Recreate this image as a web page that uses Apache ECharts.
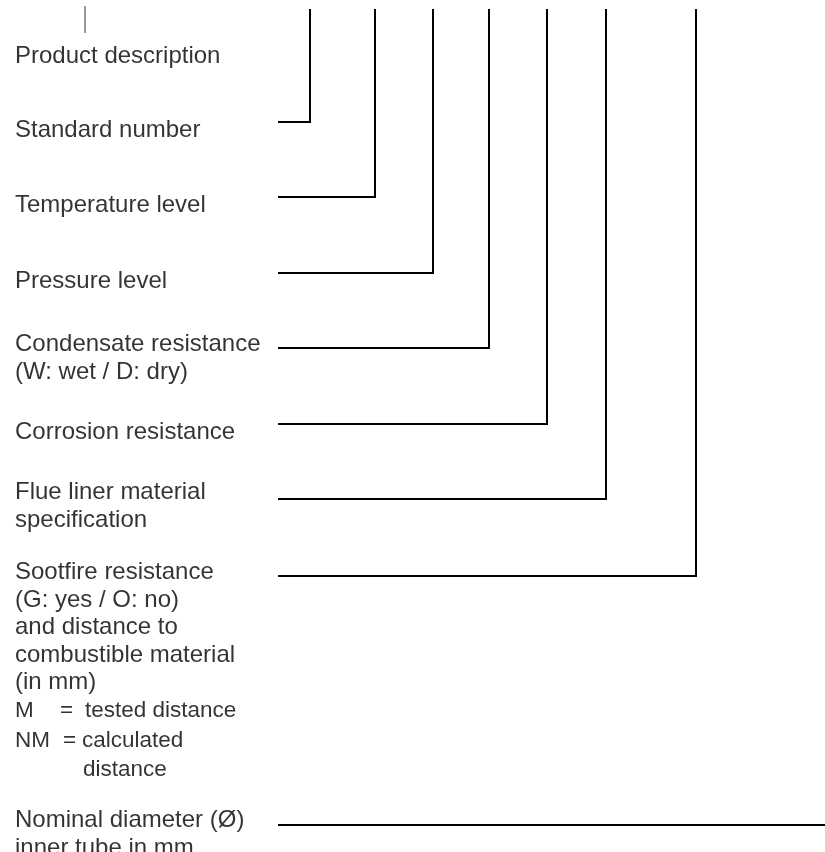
<!DOCTYPE html>
<html>
<head>
<meta charset="utf-8">
<script src="https://cdn.jsdelivr.net/npm/echarts@6/dist/echarts.min.js"></script>
<style>
  html, body { margin: 0; padding: 0; background: #fff; }
  #chart { width: 825px; height: 852px; }
</style>
</head>
<body>
<div id="chart"></div>
<script>
// texts on the left side, with the y of their middle
let labelTexts = [
  "Product description",
  "Standard number",
  "Temperature level",
  "Pressure level",
  "Condensate resistance",
  "(W: wet / D: dry)",
  "Corrosion resistance",
  "Flue liner material",
  "specification",
  "Sootfire resistance",
  "(G: yes / O: no)",
  "and distance to",
  "combustible material",
  "(in mm)",
  "Nominal diameter (Ø)",
  "inner tube in mm"
];
let labelY = [56, 130, 205, 281, 344, 372, 432, 492, 520, 572, 600, 627, 655, 682, 820, 848];

// legend of M / NM, split so the "=" lines up
let keyTexts = ["M", "=", "tested distance", "NM", "=", "calculated", "distance"];
let keyX = [15, 60, 85, 15, 63, 82, 83];
let keyY = [711, 711, 711, 741, 741, 741, 770];

// connectors: vertical stems coming from the top, joined by branches
let stemX = [310, 375, 433, 489, 547, 606, 696];
let branchY = [122, 197, 273, 348, 424, 499, 576];
let stemTop = 9;
let branchStart = 278;

// the line of the nominal diameter runs out to the right
let nominalY = 825;
let nominalEnd = 825;

// thin mark above "Product description"
let tickX = 85;
let tickY = [6, 33];

let textX = 15;
let fontFamily = "Liberation Sans, Arial, sans-serif";

let connectors = stemX.map((x, i) => ({
  type: "line",
  data: [[branchStart, branchY[i]], [x, branchY[i]], [x, stemTop]],
  symbol: "none",
  silent: true,
  lineStyle: { color: "#000", width: 2, join: "miter", cap: "butt" }
}));

let textLayer = (rows, size) => ({
  type: "scatter",
  symbolSize: 0,
  silent: true,
  data: rows,
  label: {
    show: true,
    position: [0, 0],
    align: "left",
    verticalAlign: "middle",
    formatter: (p) => p.data[2],
    fontFamily: fontFamily,
    fontSize: size,
    color: "#000"
  }
});

let options = {
  animation: false,
  backgroundColor: "#fff",
  grid: { left: 0, right: 0, top: 0, bottom: 0 },
  xAxis: { type: "value", min: 0, max: 825, show: false },
  yAxis: { type: "value", min: 0, max: 852, inverse: true, show: false },
  series: [
    ...connectors,
    {
      type: "line",
      data: [[branchStart, nominalY], [nominalEnd, nominalY]],
      symbol: "none",
      silent: true,
      lineStyle: { color: "#000", width: 2 }
    },
    {
      type: "line",
      data: [[tickX, tickY[0]], [tickX, tickY[1]]],
      symbol: "none",
      silent: true,
      lineStyle: { color: "#333", width: 1 }
    },
    textLayer(labelTexts.map((t, i) => [textX, labelY[i], t]), 24),
    textLayer(keyTexts.map((t, i) => [keyX[i], keyY[i], t]), 22.5)
  ]
};

let myChart = echarts.init(document.getElementById("chart"));
myChart.setOption(options);
window.addEventListener("resize", () => myChart.resize());
</script>
</body>
</html>
